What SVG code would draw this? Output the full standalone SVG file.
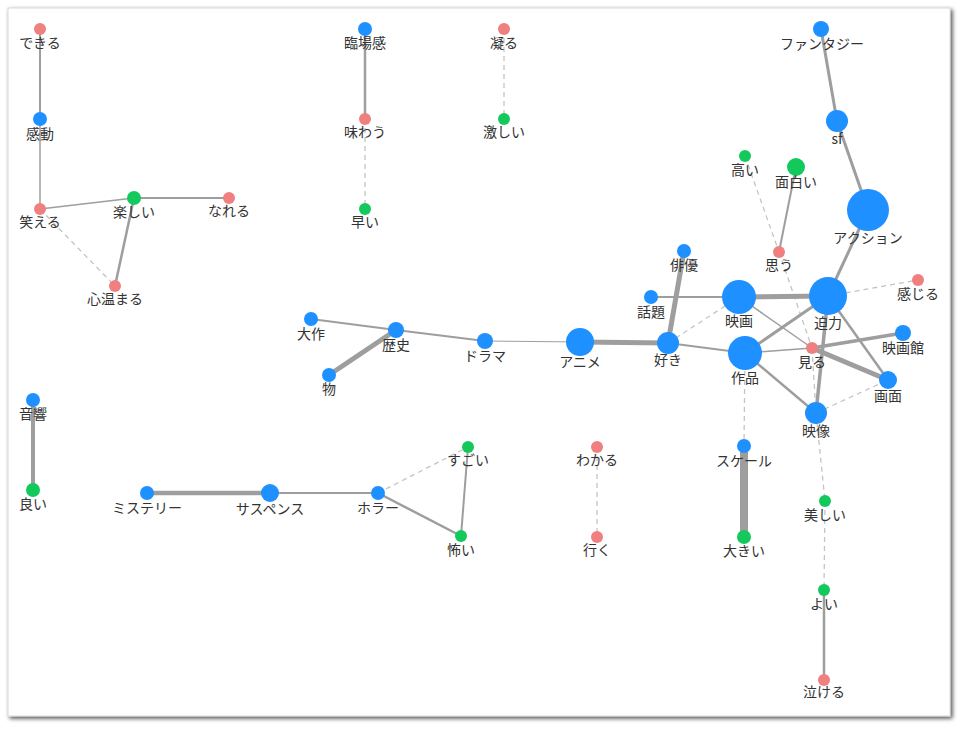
<svg xmlns="http://www.w3.org/2000/svg" width="960" height="729" viewBox="0 0 960 729">
<defs>
<filter id="sh" x="-5%" y="-5%" width="110%" height="110%">
<feGaussianBlur in="SourceAlpha" stdDeviation="2"/>
<feOffset dx="2" dy="2" result="b"/>
<feComponentTransfer><feFuncA type="linear" slope="0.7"/></feComponentTransfer>
<feMerge><feMergeNode/><feMergeNode in="SourceGraphic"/></feMerge>
</filter>
</defs>
<style>
.e{stroke:#9e9e9e;fill:none;stroke-linecap:butt}
.d{stroke:#c4c4c4;fill:none;stroke-width:1.3;stroke-dasharray:5,4}
.b{fill:#1e90ff}
.r{fill:#f08080}
.g{fill:#14c95c}
text{font-family:"Noto Sans CJK JP","Noto Sans",sans-serif;font-size:14px;fill:#333;text-anchor:middle}
</style>
<rect x="0" y="0" width="960" height="729" fill="#ffffff"/>
<rect x="8" y="8" width="942" height="708" fill="#ffffff" stroke="#d8d8d8" stroke-width="1" filter="url(#sh)"/>
<g id="edges">
<line class="e" x1="40" y1="29" x2="40" y2="119" stroke-width="2"/>
<line class="e" x1="40" y1="119" x2="40" y2="209" stroke-width="1.5"/>
<line class="e" x1="40" y1="209" x2="134" y2="198" stroke-width="1.5"/>
<line class="e" x1="134" y1="198" x2="229" y2="198" stroke-width="2"/>
<line class="e" x1="134" y1="198" x2="115" y2="286" stroke-width="2.5"/>
<line class="d" x1="40" y1="209" x2="115" y2="286"/>
<line class="e" x1="365" y1="29" x2="365" y2="119" stroke-width="2.5"/>
<line class="d" x1="365" y1="119" x2="365" y2="209"/>
<line class="d" x1="504" y1="29" x2="504" y2="119"/>
<line class="e" x1="821" y1="29" x2="837" y2="121" stroke-width="3"/>
<line class="e" x1="837" y1="121" x2="868" y2="210" stroke-width="3"/>
<line class="e" x1="868" y1="210" x2="828" y2="296" stroke-width="3"/>
<line class="d" x1="745" y1="156" x2="779" y2="252"/>
<line class="e" x1="796" y1="167" x2="779" y2="252" stroke-width="2"/>
<line class="d" x1="779" y1="252" x2="812" y2="348"/>
<line class="d" x1="828" y1="296" x2="918" y2="280"/>
<line class="e" x1="684" y1="251" x2="668" y2="343" stroke-width="5"/>
<line class="e" x1="651" y1="297" x2="739" y2="297" stroke-width="2"/>
<line class="d" x1="668" y1="343" x2="739" y2="297"/>
<line class="e" x1="580" y1="342" x2="668" y2="343" stroke-width="5"/>
<line class="e" x1="485" y1="341" x2="580" y2="342" stroke-width="1"/>
<line class="e" x1="396" y1="330" x2="485" y2="341" stroke-width="2"/>
<line class="e" x1="311" y1="319" x2="396" y2="330" stroke-width="2"/>
<line class="e" x1="396" y1="330" x2="329" y2="375" stroke-width="5"/>
<line class="e" x1="668" y1="343" x2="745" y2="353" stroke-width="2"/>
<line class="e" x1="739" y1="297" x2="828" y2="296" stroke-width="5"/>
<line class="e" x1="739" y1="297" x2="812" y2="348" stroke-width="1.5"/>
<line class="e" x1="745" y1="353" x2="828" y2="296" stroke-width="3"/>
<line class="e" x1="745" y1="353" x2="812" y2="348" stroke-width="1.5"/>
<line class="e" x1="745" y1="353" x2="816" y2="413" stroke-width="2.5"/>
<line class="e" x1="828" y1="296" x2="888" y2="380" stroke-width="2.5"/>
<line class="e" x1="828" y1="296" x2="816" y2="413" stroke-width="3.5"/>
<line class="e" x1="812" y1="348" x2="903" y2="333" stroke-width="3.5"/>
<line class="e" x1="812" y1="348" x2="888" y2="380" stroke-width="5"/>
<line class="d" x1="812" y1="348" x2="816" y2="413"/>
<line class="d" x1="816" y1="413" x2="888" y2="380"/>
<line class="d" x1="745" y1="353" x2="744" y2="446"/>
<line class="e" x1="744" y1="446" x2="744" y2="537" stroke-width="8"/>
<line class="d" x1="816" y1="413" x2="825" y2="501"/>
<line class="d" x1="825" y1="501" x2="824" y2="590"/>
<line class="e" x1="824" y1="590" x2="824" y2="680" stroke-width="2.5"/>
<line class="d" x1="597" y1="447" x2="597" y2="537"/>
<line class="e" x1="33" y1="400" x2="33" y2="490" stroke-width="4"/>
<line class="e" x1="147" y1="493" x2="270" y2="493" stroke-width="4.5"/>
<line class="e" x1="270" y1="493" x2="378" y2="493" stroke-width="2"/>
<line class="d" x1="378" y1="493" x2="468" y2="447"/>
<line class="e" x1="378" y1="493" x2="461" y2="536" stroke-width="2.5"/>
<line class="e" x1="468" y1="447" x2="461" y2="536" stroke-width="2"/>
</g>
<g id="n-dekiru"><circle class="r" cx="40" cy="29" r="6"/><text x="40" y="48">できる</text></g>
<g id="n-kandou"><circle class="b" cx="40" cy="119" r="7"/><text x="40" y="139">感動</text></g>
<g id="n-waraeru"><circle class="r" cx="40" cy="209" r="6"/><text x="40" y="227">笑える</text></g>
<g id="n-tanoshii"><circle class="g" cx="134" cy="198" r="7"/><text x="134" y="217">楽しい</text></g>
<g id="n-nareru"><circle class="r" cx="229" cy="198" r="6"/><text x="229" y="216">なれる</text></g>
<g id="n-kokoro"><circle class="r" cx="115" cy="286" r="6"/><text x="115" y="304">心温まる</text></g>
<g id="n-rinjoukan"><circle class="b" cx="365" cy="29" r="7"/><text x="365" y="48">臨場感</text></g>
<g id="n-ajiwau"><circle class="r" cx="365" cy="119" r="6"/><text x="365" y="137">味わう</text></g>
<g id="n-hayai"><circle class="g" cx="365" cy="209" r="6"/><text x="365" y="227">早い</text></g>
<g id="n-koru"><circle class="r" cx="504" cy="29" r="6"/><text x="504" y="48">凝る</text></g>
<g id="n-hageshii"><circle class="g" cx="504" cy="119" r="6"/><text x="504" y="137">激しい</text></g>
<g id="n-fantasy"><circle class="b" cx="821" cy="29" r="8"/><text x="822" y="49">ファンタジー</text></g>
<g id="n-sf"><circle class="b" cx="837" cy="121" r="11"/><text x="837" y="144">sf</text></g>
<g id="n-action"><circle class="b" cx="868" cy="210" r="21"/><text x="868" y="243">アクション</text></g>
<g id="n-takai"><circle class="g" cx="745" cy="156" r="6"/><text x="745" y="175">高い</text></g>
<g id="n-omoshiroi"><circle class="g" cx="796" cy="167" r="9"/><text x="796" y="187">面白い</text></g>
<g id="n-omou"><circle class="r" cx="779" cy="252" r="6"/><text x="779" y="270">思う</text></g>
<g id="n-kanjiru"><circle class="r" cx="918" cy="280" r="6"/><text x="918" y="299">感じる</text></g>
<g id="n-haiyu"><circle class="b" cx="684" cy="251" r="7"/><text x="684" y="270">俳優</text></g>
<g id="n-wadai"><circle class="b" cx="651" cy="297" r="7"/><text x="651" y="317">話題</text></g>
<g id="n-eiga"><circle class="b" cx="739" cy="297" r="17"/><text x="739" y="326">映画</text></g>
<g id="n-hakuryoku"><circle class="b" cx="828" cy="296" r="19"/><text x="828" y="328">迫力</text></g>
<g id="n-suki"><circle class="b" cx="668" cy="343" r="11"/><text x="668" y="365">好き</text></g>
<g id="n-sakuhin"><circle class="b" cx="745" cy="353" r="17"/><text x="745" y="383">作品</text></g>
<g id="n-miru"><circle class="r" cx="812" cy="348" r="6"/><text x="812" y="367">見る</text></g>
<g id="n-eigakan"><circle class="b" cx="903" cy="333" r="8"/><text x="903" y="353">映画館</text></g>
<g id="n-gamen"><circle class="b" cx="888" cy="380" r="9"/><text x="888" y="401">画面</text></g>
<g id="n-eizou"><circle class="b" cx="816" cy="413" r="11"/><text x="816" y="436">映像</text></g>
<g id="n-scale"><circle class="b" cx="744" cy="446" r="7"/><text x="744" y="466">スケール</text></g>
<g id="n-ookii"><circle class="g" cx="744" cy="537" r="7"/><text x="744" y="556">大きい</text></g>
<g id="n-utsukushii"><circle class="g" cx="825" cy="501" r="6"/><text x="825" y="520">美しい</text></g>
<g id="n-yoi"><circle class="g" cx="824" cy="590" r="6"/><text x="824" y="609">よい</text></g>
<g id="n-nakeru"><circle class="r" cx="824" cy="680" r="6"/><text x="824" y="697">泣ける</text></g>
<g id="n-taisaku"><circle class="b" cx="311" cy="319" r="7"/><text x="311" y="339">大作</text></g>
<g id="n-rekishi"><circle class="b" cx="396" cy="330" r="8"/><text x="396" y="350">歴史</text></g>
<g id="n-mono"><circle class="b" cx="329" cy="375" r="7"/><text x="329" y="394">物</text></g>
<g id="n-drama"><circle class="b" cx="485" cy="341" r="8"/><text x="485" y="361">ドラマ</text></g>
<g id="n-anime"><circle class="b" cx="580" cy="342" r="14"/><text x="580" y="367">アニメ</text></g>
<g id="n-wakaru"><circle class="r" cx="597" cy="447" r="6"/><text x="597" y="465">わかる</text></g>
<g id="n-iku"><circle class="r" cx="597" cy="537" r="6"/><text x="597" y="555">行く</text></g>
<g id="n-onkyou"><circle class="b" cx="33" cy="400" r="7"/><text x="33" y="419">音響</text></g>
<g id="n-yoi2"><circle class="g" cx="33" cy="490" r="7"/><text x="33" y="509">良い</text></g>
<g id="n-mystery"><circle class="b" cx="147" cy="493" r="7"/><text x="147" y="513">ミステリー</text></g>
<g id="n-suspense"><circle class="b" cx="270" cy="493" r="9"/><text x="270" y="514">サスペンス</text></g>
<g id="n-horror"><circle class="b" cx="378" cy="493" r="7"/><text x="378" y="513">ホラー</text></g>
<g id="n-sugoi"><circle class="g" cx="468" cy="447" r="6"/><text x="468" y="465">すごい</text></g>
<g id="n-kowai"><circle class="g" cx="461" cy="536" r="6"/><text x="461" y="555">怖い</text></g>
</svg>
